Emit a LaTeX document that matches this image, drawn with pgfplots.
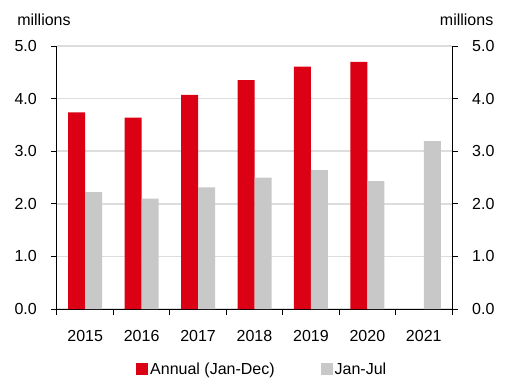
\documentclass[border=0pt]{standalone}
\usepackage{fontspec}
\setmainfont{Liberation Sans}
\usepackage{pgfplots}
\pgfplotsset{compat=1.18}
\definecolor{barred}{RGB}{220,0,20}
\definecolor{bargray}{RGB}{200,200,200}
\definecolor{gridgray}{RGB}{221,221,221}
\newcommand{\f}{\fontsize{16}{19}\selectfont}
\pgfplotsset{sq legend/.style={legend image code/.code={\fill[##1] (0pt,-6pt) rectangle (12pt,6pt);}}}
\begin{document}
\begin{tikzpicture}
\begin{axis}[
  name=ax, at={(0pt,0pt)}, anchor=south west, clip=false,
  scale only axis, width=395pt, height=263pt,
  xmin=-0.5, xmax=6.5, ymin=0, ymax=5,
  axis x line*=bottom, axis y line*=left,
  axis line style={line width=1pt, black},
  every tick/.style={black, line width=1pt},
  tick align=outside, major tick length=6pt,
  xtick={-0.5,0.5,...,6.5}, xticklabels={},
  extra x ticks={0,1,2,3,4,5,6},
  extra x tick labels={2015,2016,2017,2018,2019,2020,2021},
  extra x tick style={major tick length=0pt, tick label style={anchor=center, yshift=-27.4pt}},
  ytick={0,1,2,3,4,5},
  /pgf/number format/assume math mode=true,
  yticklabel style={/pgf/number format/fixed, /pgf/number format/fixed zerofill, /pgf/number format/precision=1, xshift=-10.7pt},
  tick label style={font=\f},
  ymajorgrids, grid style={gridgray, line width=1.5pt},
  ybar, bar width=17pt,
  legend style={at={(rel axis cs:0.2,-0.228)}, anchor=west, draw=none, inner sep=0pt, font=\f,
    /tikz/every even column/.append style={column sep=44pt}},
  legend columns=2,
]
\addplot[fill=barred, draw=none, bar shift=-8.5pt, sq legend] coordinates {(0,3.74)(1,3.64)(2,4.07)(3,4.35)(4,4.61)(5,4.70)};
\addplot[fill=bargray, draw=none, bar shift=8.5pt, sq legend] coordinates {(0,2.22)(1,2.10)(2,2.31)(3,2.50)(4,2.64)(5,2.43)(6,3.19)};
\legend{Annual (Jan-Dec), Jan-Jul}
\node[font=\f] at (rel axis cs:-0.033,1.099) {millions};
\node[font=\f] at (rel axis cs:1.037,1.099) {millions};
\end{axis}
\begin{axis}[
  at={(0pt,0pt)}, anchor=south west,
  scale only axis, width=395pt, height=263pt,
  xmin=-0.5, xmax=6.5, ymin=0, ymax=5,
  axis x line=none, axis y line*=right,
  axis line style={line width=1pt, black},
  every tick/.style={black, line width=1pt},
  tick align=outside, major tick length=6pt,
  ytick={0,1,2,3,4,5},
  /pgf/number format/assume math mode=true,
  yticklabel style={/pgf/number format/fixed, /pgf/number format/fixed zerofill, /pgf/number format/precision=1, xshift=10.7pt},
  tick label style={font=\f},
]
\end{axis}
\pgfresetboundingbox
\path[use as bounding box] (ax.south west) ++(-57pt,-74pt) rectangle ++(514pt,383pt);
\end{tikzpicture}
\end{document}
